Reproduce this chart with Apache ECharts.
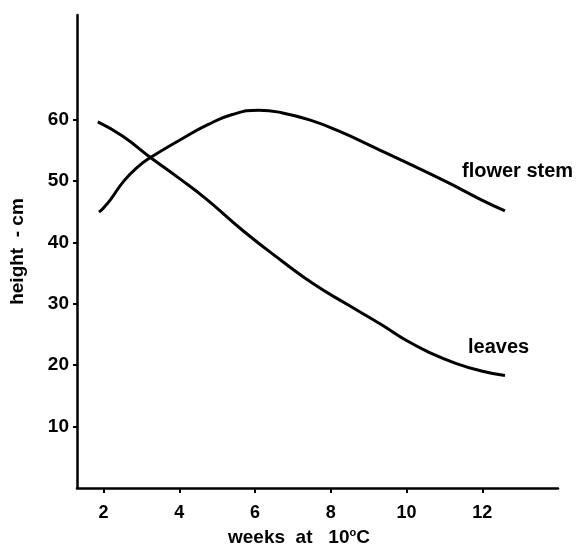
<!DOCTYPE html>
<html>
<head>
    <meta charset="utf-8">
    <title>height vs weeks at 10C</title>
    <script src="https://cdn.jsdelivr.net/npm/echarts@6/dist/echarts.min.js"></script>
    <style>
        body { margin: 0; background: #fff; }
    </style>
</head>
<body>
    <div id="chart" style="width:585px;height:555px;"></div>

    <script type="text/javascript">
        // values: [weeks, height cm]
        var flowerStem = [
            [1.88, 44.9], [2.0, 45.6], [2.19, 47.0], [2.54, 50.0], [2.89, 52.2],
            [3.24, 53.8], [4.03, 56.7], [4.74, 59.1], [5.4, 60.8], [6.1, 61.5],
            [6.7, 61.1], [7.5, 59.8], [8.25, 58.0], [9.2, 55.3], [10.2, 52.4],
            [11.1, 49.7], [11.95, 47.0], [12.6, 45.1]
        ];
        var leaves = [
            [1.85, 59.6], [2.5, 57.3], [3.24, 53.8], [4.0, 50.4], [4.7, 47.1],
            [5.7, 41.8], [6.7, 37.0], [7.55, 33.2], [8.43, 29.9], [9.31, 26.7],
            [10.0, 24.0], [10.63, 22.0], [11.3, 20.3], [11.95, 19.1], [12.6, 18.3]
        ];
        var xTicks = [2, 4, 6, 8, 10, 12];
        var yTicks = [10, 20, 30, 40, 50, 60];

        var font = 'Liberation Sans, Arial, sans-serif';

        var chart = echarts.init(document.getElementById('chart'));
        var option = {
            animation: false,
            grid: {
                left: 77,
                right: 27,
                top: 15,
                bottom: 67
            },
            xAxis: {
                type: 'value',
                min: 1.3,
                max: 14,
                splitLine: { show: false },
                axisLine: { onZero: false, lineStyle: { color: '#000', width: 2.5 } },
                axisTick: {
                    customValues: xTicks,
                    length: 5,
                    lineStyle: { color: '#000', width: 2 }
                },
                axisLabel: {
                    customValues: xTicks,
                    margin: 16,
                    color: '#000',
                    fontSize: 18,
                    fontWeight: 'bold',
                    fontFamily: font
                }
            },
            yAxis: {
                type: 'value',
                min: 0,
                max: 77,
                name: 'height  - cm',
                nameLocation: 'middle',
                nameGap: 50,
                nameTextStyle: {
                    color: '#000',
                    fontSize: 19,
                    fontWeight: 'bold',
                    fontFamily: font
                },
                splitLine: { show: false },
                axisLine: { show: true, lineStyle: { color: '#000', width: 2.5 } },
                axisTick: {
                    show: true,
                    customValues: yTicks,
                    length: 4,
                    lineStyle: { color: '#000', width: 2 }
                },
                axisLabel: {
                    customValues: yTicks,
                    margin: 8,
                    color: '#000',
                    fontSize: 19,
                    fontWeight: 'bold',
                    fontFamily: font
                }
            },
            series: [{
                name: 'flower stem',
                type: 'line',
                data: flowerStem,
                smooth: 0.5,
                showSymbol: false,
                lineStyle: { color: '#000', width: 3 }
            }, {
                name: 'leaves',
                type: 'line',
                data: leaves,
                smooth: 0.5,
                showSymbol: false,
                lineStyle: { color: '#000', width: 3 }
            }],
            graphic: [{
                type: 'text',
                left: 462,
                top: 161,
                style: {
                    text: 'flower stem',
                    fill: '#000',
                    font: 'bold 20px ' + font
                }
            }, {
                type: 'text',
                left: 468,
                top: 337,
                style: {
                    text: 'leaves',
                    fill: '#000',
                    font: 'bold 20px ' + font
                }
            }, {
                type: 'text',
                left: 228,
                top: 527,
                style: {
                    text: '{a|weeks  at   10}{b|o}{a|C}',
                    rich: {
                        a: { fill: '#000', font: 'bold 19px ' + font },
                        b: { fill: '#000', font: 'bold 11px ' + font, verticalAlign: 'top', padding: [0, 0, 10, 0] }
                    }
                }
            }]
        };
        chart.setOption(option);
    </script>
</body>
</html>
